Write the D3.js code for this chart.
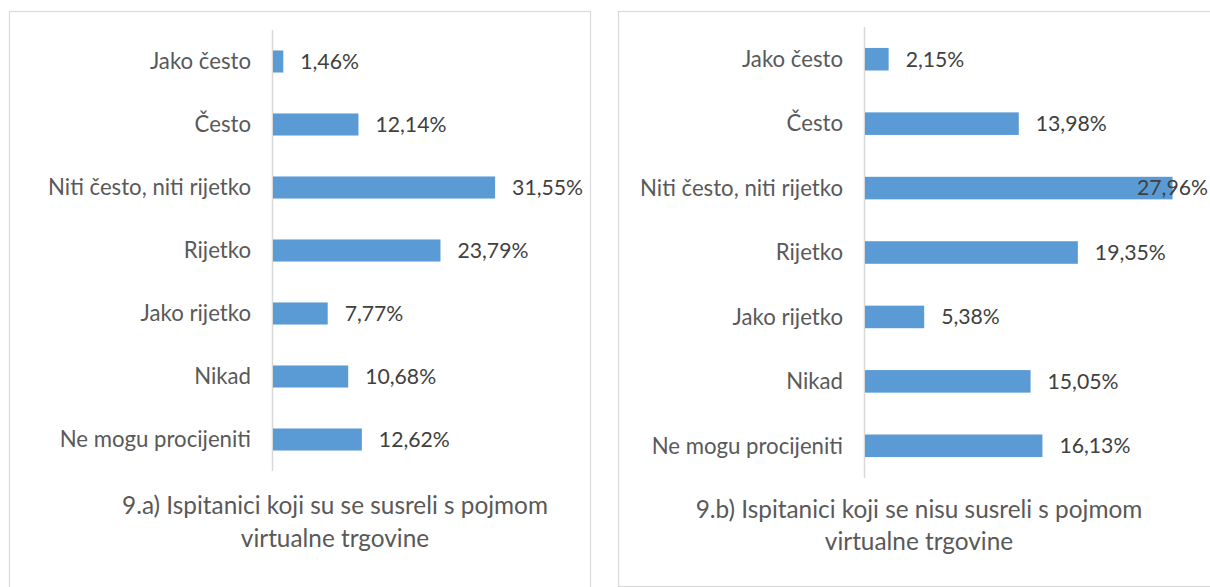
<!DOCTYPE html>
<html>
<head>
<meta charset="utf-8">
<script src="https://cdn.jsdelivr.net/npm/d3@7"></script>
<style>
  html, body { margin: 0; padding: 0; background: #fff; }
  svg { display: block; }
</style>
</head>
<body>
<svg id="chart" width="1210" height="587"></svg>
<script>
const categories = ["Jako često", "Često", "Niti često, niti rijetko", "Rijetko", "Jako rijetko", "Nikad", "Ne mogu procijeniti"];
const valuesA = [1.46, 12.14, 31.55, 23.79, 7.77, 10.68, 12.62];
const valuesB = [2.15, 13.98, 27.96, 19.35, 5.38, 15.05, 16.13];
const titleA = ["9.a) Ispitanici koji su se susreli s pojmom", "virtualne trgovine"];
const titleB = ["9.b) Ispitanici koji se nisu susreli s pojmom", "virtualne trgovine"];

const svg = d3.select("#chart");
const FONT = "Lato, 'Open Sans', sans-serif";
const fmt = v => d3.format(".2f")(v).replace(".", ",") + "%";

function fitSize(text, target, base) {
  const t = svg.append("text").attr("font-family", FONT).attr("font-size", base).text(text);
  const w = t.node().getComputedTextLength();
  t.remove();
  return base * target / w;
}
const catSize = fitSize("Niti često, niti rijetko", 203, 18);
const valSize = fitSize("31,55%", 71, 18);
const titleSize = fitSize("9.a) Ispitanici koji su se susreli s pojmom", 426, 20);

function panel(cfg) {
  const g = svg.append("g");
  g.append("rect")
    .attr("x", cfg.box[0] + 0.5).attr("y", cfg.box[1] + 0.5)
    .attr("width", cfg.box[2]).attr("height", cfg.box[3])
    .attr("fill", "#fff").attr("stroke", "#d9d9d9").attr("stroke-width", 1.2);

  const y = d3.scaleBand().domain(categories).range(cfg.yRange).padding(0);
  const x = d3.scaleLinear().domain([0, cfg.xMax]).range(cfg.xRange);
  const bh = y.step() * 0.35;

  g.append("line")
    .attr("x1", x(0) - 0.5).attr("x2", x(0) - 0.5)
    .attr("y1", cfg.yRange[0]).attr("y2", cfg.yRange[1])
    .attr("stroke", "#d9d9d9").attr("stroke-width", 1.5);

  const data = categories.map((c, i) => ({ c, v: cfg.values[i] }));

  g.selectAll("rect.bar").data(data).join("rect")
    .attr("class", "bar")
    .attr("x", x(0))
    .attr("y", d => y(d.c) + y.step() / 2 - bh / 2)
    .attr("width", d => x(d.v) - x(0))
    .attr("height", bh)
    .attr("fill", "#5b9bd5");

  g.selectAll("text.cat").data(data).join("text")
    .attr("class", "cat")
    .attr("x", x(0) - 22)
    .attr("y", d => y(d.c) + y.step() / 2)
    .attr("dy", "0.35em")
    .attr("text-anchor", "end")
    .attr("font-family", FONT).attr("font-size", catSize)
    .attr("fill", "#595959")
    .text(d => d.c);

  g.selectAll("text.val").data(data).join("text")
    .attr("class", "val")
    .attr("y", d => y(d.c) + y.step() / 2)
    .attr("dy", "0.35em")
    .attr("font-family", FONT).attr("font-size", valSize)
    .attr("fill", "#404040")
    .text(d => fmt(d.v))
    .each(function (d) {
      const w = this.getComputedTextLength();
      let px = x(d.v) + 17;
      if (px + w > cfg.labelLimit) px = cfg.labelLimit - w;
      d3.select(this).attr("x", px);
    });

  const tt = g.append("text")
    .attr("text-anchor", "middle")
    .attr("font-family", FONT).attr("font-size", titleSize)
    .attr("fill", "#595959");
  cfg.title.forEach((line, i) => {
    tt.append("tspan").attr("x", cfg.titleX).attr("y", cfg.titleY[i]).text(line);
  });
}

panel({
  box: [9, 11, 581, 590],
  yRange: [30, 471],
  xRange: [273, 273 + 35 * 7.04],
  xMax: 35,
  values: valuesA,
  title: titleA,
  titleX: 335,
  titleY: [514, 547],
  labelLimit: 1000
});

panel({
  box: [618, 11, 610, 575],
  yRange: [27, 478],
  xRange: [865, 865 + 30 * 11.0],
  xMax: 30,
  values: valuesB,
  title: titleB,
  titleX: 919,
  titleY: [518, 550],
  labelLimit: 1208
});
</script>
</body>
</html>
